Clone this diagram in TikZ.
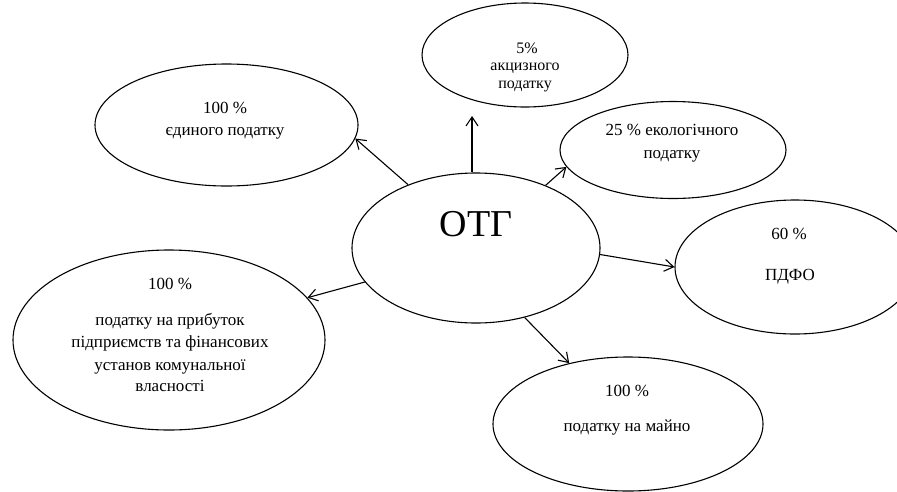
\documentclass[tikz,border=0pt]{standalone}
\usepackage{fontspec}
\setmainfont{Liberation Serif}
\usetikzlibrary{shapes.geometric,arrows.meta}
\begin{document}
\begin{tikzpicture}[x=1pt,y=-1pt,
  bub/.style={draw,ellipse,line width=1.1pt,inner sep=0pt},
  lbl/.style={inner sep=0pt,font=\fontsize{17}{20}\selectfont,text height=0.7em,text depth=0.2em},
  slbl/.style={lbl,font=\fontsize{16}{19}\selectfont},
  arr/.style={line width=1.1pt,-{Straight Barb[length=9pt,width=12pt]}}]
\useasboundingbox (0,0) rectangle (897,491);
\fill[white] (0,0) rectangle (897,491);
% ellipses
\node[bub,minimum width=248pt,minimum height=150pt] (otg) at (476,248) {};
\node[bub,minimum width=263pt,minimum height=122pt] (single) at (226.5,125) {};
\node[bub,minimum width=206pt,minimum height=104pt] (akc) at (525,55) {};
\node[bub,minimum width=226pt,minimum height=97pt] (eco) at (673,150) {};
\node[bub,minimum width=240pt,minimum height=134pt] (pdfo) at (795,267) {};
\node[bub,minimum width=312pt,minimum height=180pt] (profit) at (169,340) {};
\node[bub,minimum width=270pt,minimum height=134pt] (prop) at (628,424) {};
% texts
\node[inner sep=0pt,font=\fontsize{38}{40}\selectfont] (otgt) at (476,224) {ОТГ};
\node[lbl] (s1) at (225,111) {100 \%};
\node[lbl] (s2) at (225,133) {єдиного податку};
\node[slbl] (a1) at (527,51) {5\%};
\node[slbl] (a2) at (525,68) {акцизного};
\node[slbl] (a3) at (525,86) {податку};
\node[lbl] (e1) at (672,133) {25 \% екологічного};
\node[lbl] (e2) at (672,156) {податку};
\node[lbl] (p1) at (789,237) {60 \%};
\node[lbl] (p2) at (790,278) {ПДФО};
\node[lbl] (r1) at (170,287) {100 \%};
\node[lbl] (r2) at (170,323) {податку на прибуток};
\node[lbl] (r3) at (170,345) {підприємств та фінансових};
\node[lbl] (r4) at (170,368) {установ комунальної};
\node[lbl] (r5) at (170,389) {власності};
\node[lbl] (m1) at (627,394) {100 \%};
\node[lbl] (m2) at (627,429) {податку на майно};
% connectors
\coordinate (akctip) at (472,116);
\draw[arr] (otg.137) -- (single.-6);
\draw[arr] (akctip |- otg.north) -- (akctip);
\draw[arr] (otg.42.4) -- (eco.-171);
\draw[arr] (otg.-3.7) -- (pdfo.180);
\draw[arr] (otg.197.2) -- (profit.17);
\draw[arr] (otg.-55.7) -- (prop.134.5);
\end{tikzpicture}
\end{document}
